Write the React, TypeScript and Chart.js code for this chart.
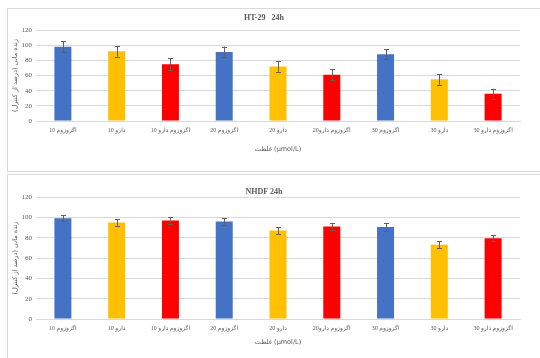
import React, { useEffect, useRef } from "react";
import { Chart, registerables } from "chart.js";

Chart.register(...registerables);

// Treatment groups: exosome, drug, exosome + drug at 10 / 20 / 30 µmol/L
const categories = [
  "اگزوزوم 10",
  "دارو 10",
  "اگزوزوم دارو 10",
  "اگزوزوم 20",
  "دارو 20",
  "اگزوزوم دارو20",
  "اگزوزوم 30",
  "دارو 30",
  "اگزوزوم دارو 30",
];

const barColors = [
  "#4472C4", "#FFC000", "#FF0000",
  "#4472C4", "#FFC000", "#FF0000",
  "#4472C4", "#FFC000", "#FF0000",
];

// Viability (% of control), mean and error
const ht29Values = [98, 92, 75, 91, 72, 61, 88, 55, 36];
const ht29Errors = [7, 7, 7.5, 7, 7, 7, 6.5, 7, 6.5];

const nhdfValues = [99, 95, 97, 96, 87, 91, 90.5, 73, 79.5];
const nhdfErrors = [3, 3.3, 3.3, 3.3, 3.3, 3, 3.5, 3.5, 3];

const yTicks = [0, 20, 40, 60, 80, 100, 120];

const yTitle = "زنده مانی (درصد از کنترل)";
const xTitle = "غلظت (μmol/L)";

const TEXT = "#595959";
const GRID = "#D9D9D9";

const errorBarPlugin = {
  id: "errorBars",
  afterDatasetsDraw(chart: any, _args: any, opts: any) {
    const errs: number[] = opts.errors || [];
    const ds = chart.data.datasets[0];
    const meta = chart.getDatasetMeta(0);
    const y = chart.scales.y;
    const ctx = chart.ctx;
    ctx.save();
    ctx.strokeStyle = "#5f5f5f";
    ctx.lineWidth = 1;
    meta.data.forEach((bar: any, i: number) => {
      const v = ds.data[i];
      const e = errs[i] || 0;
      const top = y.getPixelForValue(v + e);
      const bot = y.getPixelForValue(v - e);
      const x = Math.round(bar.x) + 0.5;
      ctx.beginPath();
      ctx.moveTo(x, top);
      ctx.lineTo(x, bot);
      ctx.moveTo(x - 2.5, Math.round(top) + 0.5);
      ctx.lineTo(x + 2.5, Math.round(top) + 0.5);
      ctx.moveTo(x - 2.5, Math.round(bot) + 0.5);
      ctx.lineTo(x + 2.5, Math.round(bot) + 0.5);
      ctx.stroke();
    });
    ctx.restore();
  },
};

type PanelProps = {
  title: string;
  values: number[];
  errors: number[];
  width: number;
  height: number;
  titlePad: { top: number; bottom: number };
  xAxisHeight: number;
  bottomPad: number;
};

function BarPanel(props: PanelProps) {
  const ref = useRef<HTMLCanvasElement>(null);
  useEffect(() => {
    if (!ref.current) return;
    const chart = new Chart(ref.current, {
      type: "bar",
      data: {
        labels: categories,
        datasets: [
          {
            data: props.values,
            backgroundColor: barColors,
            borderWidth: 0,
            categoryPercentage: 1,
            barPercentage: 0.316,
          },
        ],
      },
      options: {
        responsive: false,
        animation: false,
        layout: { padding: { left: 0, right: 20, top: 0, bottom: props.bottomPad } },
        plugins: {
          legend: { display: false },
          tooltip: { enabled: false },
          title: {
            display: true,
            text: props.title,
            color: TEXT,
            font: { family: "'Liberation Serif', serif", size: 8, weight: "bold" },
            padding: props.titlePad,
          },
          errorBars: { errors: props.errors },
        } as any,
        scales: {
          x: {
            grid: { display: false, drawTicks: false },
            border: { display: true, color: GRID },
            ticks: {
              color: TEXT,
              font: { family: "'Liberation Serif', 'DejaVu Sans', serif", size: 6 },
              padding: 6,
              maxRotation: 0,
              autoSkip: false,
            },
            title: {
              display: true,
              text: xTitle,
              color: TEXT,
              font: { family: "'DejaVu Sans', sans-serif", size: 6.5 },
              padding: 0,
            },
            afterFit(scale: any) {
              scale.height = props.xAxisHeight;
            },
          },
          y: {
            min: 0,
            max: 120,
            afterBuildTicks(scale: any) {
              scale.ticks = yTicks.map((v) => ({ value: v }));
            },
            grid: { color: GRID, drawTicks: false },
            border: { display: false },
            ticks: {
              color: TEXT,
              font: { family: "'Liberation Serif', serif", size: 7 },
              padding: 4,
            },
            title: {
              display: true,
              text: yTitle,
              color: TEXT,
              font: { family: "'DejaVu Sans', sans-serif", size: 6.5 },
              padding: 3,
            },
            afterFit(scale: any) {
              scale.width = 28;
            },
          },
        },
      },
      plugins: [errorBarPlugin],
    });
    return () => chart.destroy();
  }, []);
  return <canvas ref={ref} width={props.width} height={props.height} style={{ display: "block" }} />;
}

export default function App() {
  return (
    <div
      style={{
        position: "absolute",
        left: 0,
        top: 0,
        width: 540,
        height: 358,
        overflow: "hidden",
        background: "#fff",
      }}
    >
      <div
        style={{
          position: "absolute",
          left: 7,
          top: 8,
          width: 545,
          height: 162,
          border: `1px solid ${GRID}`,
        }}
      >
        <BarPanel
          title="HT-29   24h"
          values={ht29Values}
          errors={ht29Errors}
          width={532}
          height={162}
          titlePad={{ top: 4.2, bottom: 7.2 }}
          xAxisHeight={32}
          bottomPad={18}
        />
      </div>
      <div
        style={{
          position: "absolute",
          left: 7,
          top: 174,
          width: 545,
          height: 200,
          border: `1px solid ${GRID}`,
        }}
      >
        <BarPanel
          title="NHDF 24h"
          values={nhdfValues}
          errors={nhdfErrors}
          width={532}
          height={183}
          titlePad={{ top: 12.2, bottom: 0.2 }}
          xAxisHeight={27}
          bottomPad={12}
        />
      </div>
    </div>
  );
}
